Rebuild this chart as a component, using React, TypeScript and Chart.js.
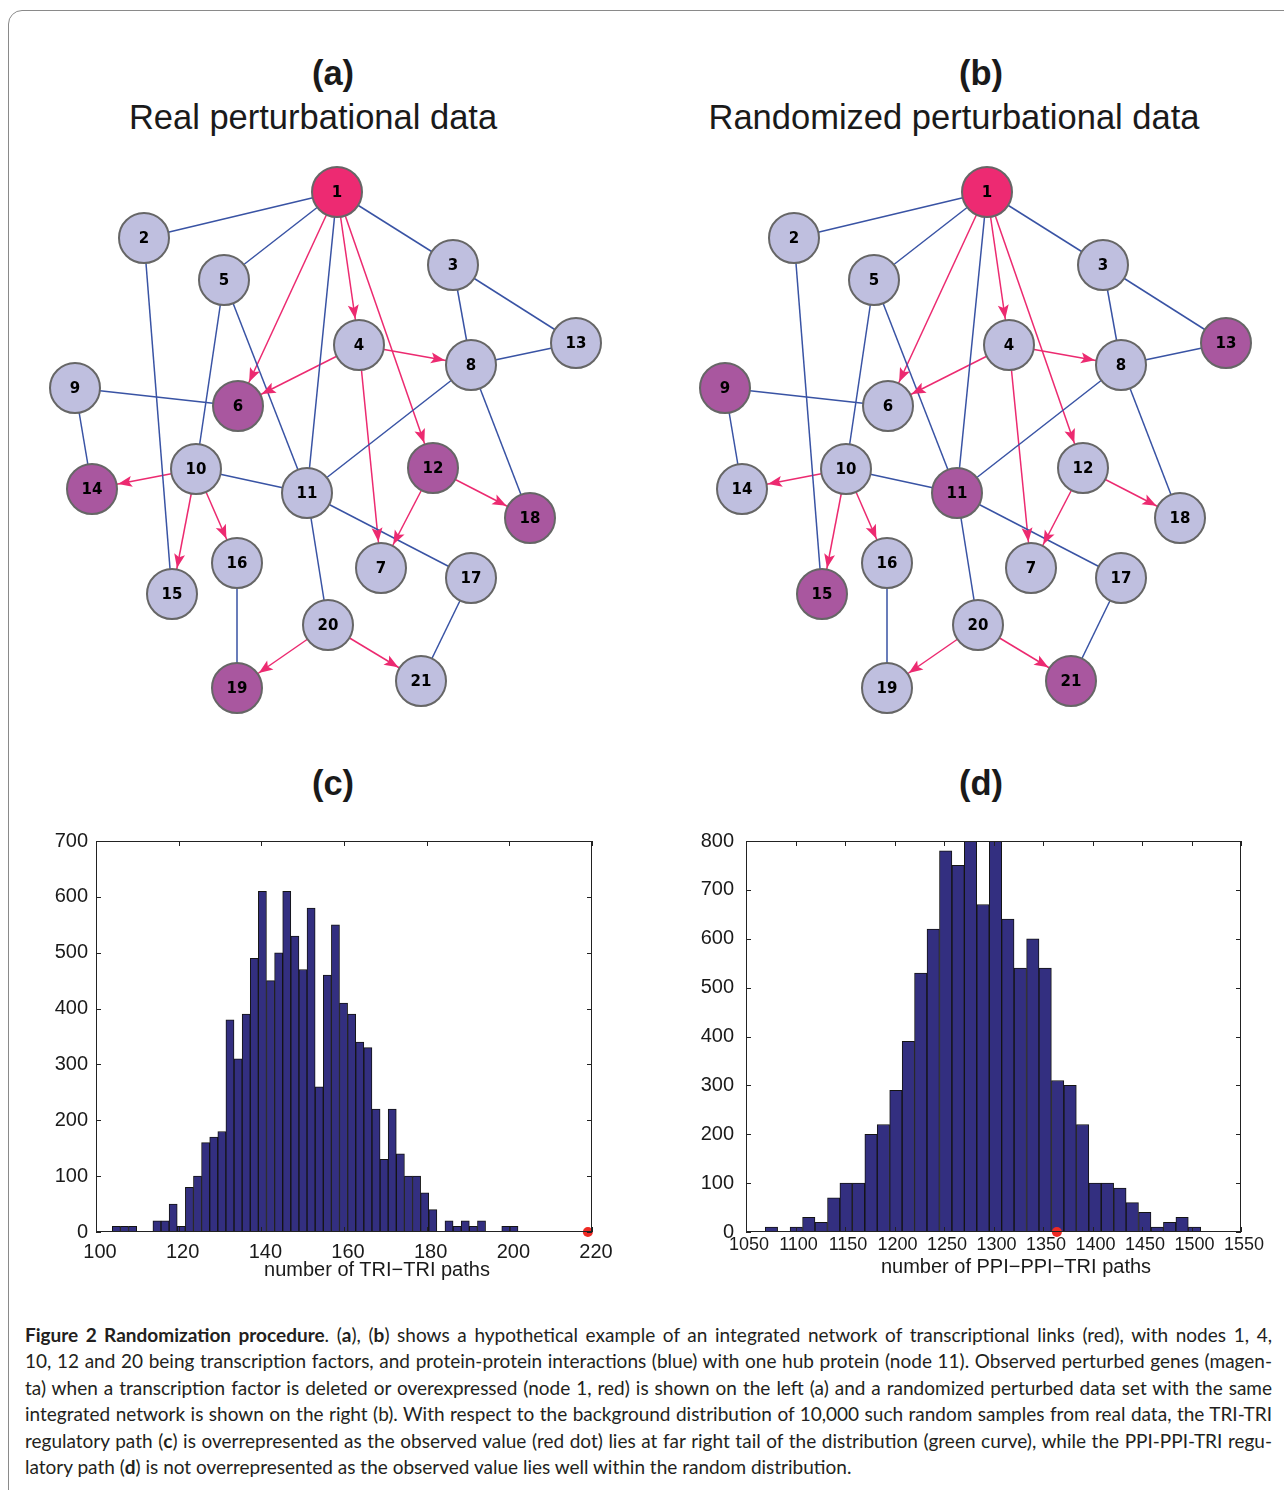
import React, { useEffect, useRef } from "react";
import { Chart, registerables } from "chart.js";

Chart.register(...registerables);

// ---------------- Network data ----------------
const NODE_IDS = [1, 2, 3, 4, 5, 6, 7, 8, 9, 10, 11, 12, 13, 14, 15, 16, 17, 18, 19, 20, 21];
const NODE_X = [337, 144, 453, 359, 224, 238, 381, 471, 75, 196, 307, 433, 576, 92, 172, 237, 471, 530, 237, 328, 421];
const NODE_Y = [192, 238, 265, 345, 280, 406, 568, 365, 388, 469, 493, 468, 343, 489, 594, 563, 578, 518, 688, 625, 681];

// protein-protein interactions (blue, undirected)
const PPI_EDGES: [number, number][] = [
  [1, 2], [1, 5], [1, 3], [1, 11], [3, 8], [3, 13], [8, 13], [8, 11], [8, 18], [2, 15],
  [5, 10], [5, 11], [9, 6], [9, 14], [10, 11], [11, 17], [11, 20], [16, 19], [17, 21],
];
// transcriptional links (red, directed)
const TRI_EDGES: [number, number][] = [
  [1, 6], [1, 4], [1, 12], [4, 6], [4, 8], [4, 7], [12, 7], [12, 18],
  [10, 14], [10, 15], [10, 16], [20, 19], [20, 21],
];
const DELETED_TF = 1;
const PERTURBED_REAL = [6, 12, 14, 18, 19];
const PERTURBED_RANDOM = [9, 11, 13, 15, 21];

// ---------------- Histogram data ----------------
const TRI_BIN_CENTERS = [
  104.93, 106.89, 108.86, 110.82, 112.78, 114.75, 116.71, 118.67, 120.63, 122.6,
  124.56, 126.52, 128.49, 130.45, 132.41, 134.38, 136.34, 138.3, 140.26, 142.23,
  144.19, 146.15, 148.12, 150.08, 152.04, 154.01, 155.97, 157.93, 159.89, 161.86,
  163.82, 165.78, 167.75, 169.71, 171.67, 173.64, 175.6, 177.56, 179.52, 181.49,
  183.45, 185.41, 187.38, 189.34, 191.3, 193.27, 195.23, 197.19, 199.15, 201.12,
];
const TRI_COUNTS = [
  10, 10, 10, 0, 0, 20, 20, 50, 10, 80,
  100, 160, 170, 180, 380, 310, 390, 490, 610, 450,
  500, 610, 530, 470, 580, 260, 460, 550, 410, 390,
  340, 330, 220, 130, 220, 140, 100, 100, 70, 40,
  0, 20, 10, 20, 10, 20, 0, 0, 10, 10,
];
const TRI_OBSERVED = 219;
const TRI_X_TICKS = { min: 100, max: 220, step: 20 };
const TRI_Y_TICKS = { min: 0, max: 700, step: 100 };

const PPI_BIN_CENTERS = [
  1075.7, 1088.3, 1100.8, 1113.4, 1126.0, 1138.6, 1151.1, 1163.7, 1176.3, 1188.8,
  1201.4, 1214.0, 1226.5, 1239.1, 1251.7, 1264.3, 1276.8, 1289.4, 1302.0, 1314.5,
  1327.1, 1339.7, 1352.2, 1364.8, 1377.4, 1390.0, 1402.5, 1415.1, 1427.7, 1440.2,
  1452.8, 1465.4, 1477.9, 1490.5, 1503.1,
];
const PPI_COUNTS = [
  10, 0, 10, 30, 20, 70, 100, 100, 200, 220,
  290, 390, 530, 620, 780, 750, 820, 670, 820, 640,
  540, 600, 540, 310, 300, 220, 100, 100, 90, 60,
  40, 10, 20, 30, 10,
];
const PPI_OBSERVED = 1364;
const PPI_X_TICKS = { min: 1050, max: 1550, step: 50 };
const PPI_Y_TICKS = { min: 0, max: 800, step: 100 };

// ---------------- Styles ----------------
const LAVENDER = "#bfbfdf";
const MAGENTA = "#a9579f";
const RED_NODE = "#ed2a72";
const BLUE_EDGE = "#3953a4";
const RED_EDGE = "#ec2a70";
const NODE_R = 25;
const BAR_FILL = "#332f80";
const AX_FONT = '"Liberation Sans", Arial, Helvetica, sans-serif';

// ---------------- Network chart ----------------
const NET_X0 = 20;
const NET_Y0 = 150;
const NET_W = 620;
const NET_H = 580;

const arrowPlugin = {
  id: "arrowHeads",
  afterDatasetsDraw(chart: any) {
    const { ctx, scales } = chart;
    const xs = scales.x;
    const ys = scales.y;
    ctx.save();
    ctx.fillStyle = RED_EDGE;
    TRI_EDGES.forEach(([a, b]) => {
      const x1 = xs.getPixelForValue(NODE_X[a - 1]);
      const y1 = ys.getPixelForValue(NODE_Y[a - 1]);
      const x2 = xs.getPixelForValue(NODE_X[b - 1]);
      const y2 = ys.getPixelForValue(NODE_Y[b - 1]);
      const d = Math.hypot(x2 - x1, y2 - y1);
      const ux = (x2 - x1) / d;
      const uy = (y2 - y1) / d;
      const tipD = NODE_R + 1.5;
      const tx = x2 - ux * tipD;
      const ty = y2 - uy * tipD;
      const L = 14;
      const W = 5.5;
      const bx = tx - ux * L;
      const by = ty - uy * L;
      const nx = tx - ux * (L - 3);
      const ny = ty - uy * (L - 3);
      ctx.beginPath();
      ctx.moveTo(tx, ty);
      ctx.lineTo(bx - uy * W, by + ux * W);
      ctx.lineTo(nx, ny);
      ctx.lineTo(bx + uy * W, by - ux * W);
      ctx.closePath();
      ctx.fill();
    });
    ctx.restore();
  },
};

const nodeLabelPlugin = {
  id: "nodeLabels",
  afterDatasetsDraw(chart: any) {
    const { ctx, scales } = chart;
    ctx.save();
    ctx.fillStyle = "#000";
    ctx.font = 'bold 15px "DejaVu Sans", Verdana, sans-serif';
    ctx.textAlign = "center";
    ctx.textBaseline = "middle";
    NODE_IDS.forEach((id, i) => {
      ctx.fillText(String(id), scales.x.getPixelForValue(NODE_X[i]), scales.y.getPixelForValue(NODE_Y[i]) + 1);
    });
    ctx.restore();
  },
};

function NetworkChart({ perturbed, left }: { perturbed: number[]; left: number }) {
  const ref = useRef<HTMLCanvasElement>(null);
  useEffect(() => {
    if (!ref.current) return;
    const pts = NODE_IDS.map((_, i) => ({ x: NODE_X[i], y: NODE_Y[i] }));
    const nodeColors = NODE_IDS.map((id) =>
      id === DELETED_TF ? RED_NODE : perturbed.includes(id) ? MAGENTA : LAVENDER
    );
    const edgeSet = (edges: [number, number][], color: string) =>
      edges.map(([a, b]) => ({
        data: [pts[a - 1], pts[b - 1]],
        showLine: true,
        borderColor: color,
        borderWidth: 1.5,
        pointRadius: 0,
        pointHoverRadius: 0,
        fill: false,
        order: 2,
      }));
    const chart = new Chart(ref.current, {
      type: "scatter",
      data: {
        datasets: [
          {
            data: pts,
            pointRadius: NODE_R,
            pointHoverRadius: NODE_R,
            backgroundColor: nodeColors,
            borderColor: "#666666",
            borderWidth: 2,
            pointHoverBorderWidth: 2,
            order: 0,
            clip: false,
          } as any,
          ...(edgeSet(PPI_EDGES, BLUE_EDGE) as any[]),
          ...(edgeSet(TRI_EDGES, RED_EDGE) as any[]),
        ],
      },
      options: {
        animation: false,
        responsive: false,
        maintainAspectRatio: false,
        events: [],
        layout: { padding: 0, autoPadding: false },
        scales: {
          x: { type: "linear", display: false, min: NET_X0, max: NET_X0 + NET_W },
          y: { type: "linear", display: false, min: NET_Y0, max: NET_Y0 + NET_H, reverse: true },
        },
        plugins: { legend: { display: false }, tooltip: { enabled: false }, title: { display: false } },
      },
      plugins: [arrowPlugin, nodeLabelPlugin],
    });
    return () => chart.destroy();
  }, []);
  return (
    <canvas
      ref={ref}
      width={NET_W}
      height={NET_H}
      style={{ position: "absolute", left, top: NET_Y0, width: NET_W, height: NET_H }}
    />
  );
}

// ---------------- Histogram chart ----------------
const boxPlugin = {
  id: "matlabBox",
  afterDatasetsDraw(chart: any) {
    const { ctx, chartArea, scales } = chart;
    const { left, right, top, bottom } = chartArea;
    ctx.save();
    ctx.strokeStyle = "#222";
    ctx.lineWidth = 1;
    ctx.strokeRect(left + 0.5, top + 0.5, right - left - 1, bottom - top - 1);
    const tl = 5;
    ctx.beginPath();
    scales.x.ticks.forEach((t: any) => {
      const px = Math.round(scales.x.getPixelForValue(t.value)) + 0.5;
      ctx.moveTo(px, bottom);
      ctx.lineTo(px, bottom - tl);
      ctx.moveTo(px, top);
      ctx.lineTo(px, top + tl);
    });
    scales.y.ticks.forEach((t: any) => {
      const py = Math.round(scales.y.getPixelForValue(t.value)) + 0.5;
      ctx.moveTo(left, py);
      ctx.lineTo(left + tl, py);
      ctx.moveTo(right, py);
      ctx.lineTo(right - tl, py);
    });
    ctx.stroke();
    ctx.restore();
  },
};

type HistProps = {
  centers: number[];
  counts: number[];
  observed: number;
  xt: { min: number; max: number; step: number };
  yt: { min: number; max: number; step: number };
  left: number;
  top: number;
  width: number;
  height: number;
  padRight: number;
  yAxisW: number;
  xAxisH: number;
  xTickPad: number;
  xTickOffset: number;
  xTickSize: number;
  yTickPad: number;
};

function Histogram(p: HistProps) {
  const ref = useRef<HTMLCanvasElement>(null);
  useEffect(() => {
    if (!ref.current) return;
    const chart = new Chart(ref.current, {
      type: "bar",
      data: {
        datasets: [
          {
            type: "scatter",
            data: [{ x: p.observed, y: 0 }],
            pointRadius: 5,
            backgroundColor: "#ee2a24",
            borderWidth: 0,
            clip: false,
            order: 0,
          } as any,
          {
            type: "bar",
            data: p.centers.map((x, i) => ({ x, y: p.counts[i] })),
            backgroundColor: BAR_FILL,
            borderColor: "#141414",
            borderWidth: (c: any) => (c.raw && c.raw.y > 0 ? 1 : 0),
            borderSkipped: "start",
            barPercentage: 1,
            categoryPercentage: 1,
            clip: 0,
            order: 1,
          } as any,
        ],
      },
      options: {
        animation: false,
        responsive: false,
        maintainAspectRatio: false,
        events: [],
        layout: { padding: { left: 0, top: 0, right: p.padRight, bottom: 0 }, autoPadding: false },
        scales: {
          x: {
            type: "linear",
            min: p.xt.min,
            max: p.xt.max,
            offset: false,
            grid: { display: false, drawTicks: false, offset: false },
            border: { display: false },
            ticks: {
              stepSize: p.xt.step,
              autoSkip: false,
              maxRotation: 0,
              padding: p.xTickPad,
              labelOffset: p.xTickOffset,
              color: "#1a1a1a",
              font: { family: AX_FONT, size: p.xTickSize },
              callback: (v: any) => String(v),
            },
            afterFit: (s: any) => {
              s.height = p.xAxisH;
            },
          },
          y: {
            type: "linear",
            min: p.yt.min,
            max: p.yt.max,
            grid: { display: false, drawTicks: false },
            border: { display: false },
            ticks: {
              stepSize: p.yt.step,
              autoSkip: false,
              padding: p.yTickPad,
              color: "#1a1a1a",
              font: { family: AX_FONT, size: 20 },
              callback: (v: any) => String(v),
            },
            afterFit: (s: any) => {
              s.width = p.yAxisW;
            },
          },
        },
        plugins: { legend: { display: false }, tooltip: { enabled: false }, title: { display: false } },
      },
      plugins: [boxPlugin],
    });
    return () => chart.destroy();
  }, []);
  return (
    <canvas
      ref={ref}
      width={p.width}
      height={p.height}
      style={{ position: "absolute", left: p.left, top: p.top, width: p.width, height: p.height }}
    />
  );
}

// ---------------- Page ----------------
const TITLE_FONT = '"Liberation Sans", Arial, Helvetica, sans-serif';

function Label({ text, cx, cy, size, bold }: { text: string; cx: number; cy: number; size: number; bold?: boolean }) {
  return (
    <div
      style={{
        position: "absolute",
        left: cx - 320,
        width: 640,
        top: cy - 20,
        height: 40,
        lineHeight: "40px",
        textAlign: "center",
        fontFamily: TITLE_FONT,
        fontSize: size,
        fontWeight: bold ? 700 : 400,
        color: "#1a1a1a",
        whiteSpace: "nowrap",
      }}
    >
      {text}
    </div>
  );
}

const CAPTION_LINES: React.ReactNode[] = [
  <>
    <b>Figure 2 Randomization procedure</b>. (<b>a</b>), (<b>b</b>) shows a hypothetical example of an integrated network of transcriptional links (red), with nodes 1, 4,
  </>,
  <>10, 12 and 20 being transcription factors, and protein-protein interactions (blue) with one hub protein (node 11). Observed perturbed genes (magen-</>,
  <>ta) when a transcription factor is deleted or overexpressed (node 1, red) is shown on the left (a) and a randomized perturbed data set with the same</>,
  <>integrated network is shown on the right (b). With respect to the background distribution of 10,000 such random samples from real data, the TRI-TRI</>,
  <>
    regulatory path (<b>c</b>) is overrepresented as the observed value (red dot) lies at far right tail of the distribution (green curve), while the PPI-PPI-TRI regu-
  </>,
  <>
    latory path (<b>d</b>) is not overrepresented as the observed value lies well within the random distribution.
  </>,
];

export default function App() {
  return (
    <div
      style={{
        position: "absolute",
        left: 0,
        top: 0,
        width: 1284,
        height: 1490,
        overflow: "hidden",
        background: "#fff",
      }}
    >
      <div
        style={{
          position: "absolute",
          left: 8,
          top: 10,
          width: 1320,
          height: 1540,
          border: "1px solid #8a8a8a",
          borderRadius: 14,
          boxSizing: "border-box",
        }}
      />
      <Label text="(a)" cx={333} cy={73} size={34.5} bold />
      <Label text="Real perturbational data" cx={313} cy={117} size={34.5} />
      <Label text="(b)" cx={981} cy={73} size={34.5} bold />
      <Label text="Randomized perturbational data" cx={954} cy={117} size={34.5} />
      <NetworkChart perturbed={PERTURBED_REAL} left={NET_X0} />
      <NetworkChart perturbed={PERTURBED_RANDOM} left={NET_X0 + 650} />
      <Label text="(c)" cx={333} cy={783} size={34.5} bold />
      <Label text="(d)" cx={981} cy={783} size={34.5} bold />
      <Histogram
        centers={TRI_BIN_CENTERS}
        counts={TRI_COUNTS}
        observed={TRI_OBSERVED}
        xt={TRI_X_TICKS}
        yt={TRI_Y_TICKS}
        left={30}
        top={821}
        width={600}
        height={449}
        padRight={38}
        yAxisW={66}
        xAxisH={38}
        xTickPad={8}
        xTickOffset={4}
        xTickSize={20}
        yTickPad={8}
      />
      <Label text="number of TRI−TRI paths" cx={377} cy={1269} size={20} />
      <Histogram
        centers={PPI_BIN_CENTERS}
        counts={PPI_COUNTS}
        observed={PPI_OBSERVED}
        xt={PPI_X_TICKS}
        yt={PPI_Y_TICKS}
        left={680}
        top={817}
        width={600}
        height={453}
        padRight={39}
        yAxisW={66}
        xAxisH={38}
        xTickPad={2}
        xTickOffset={3}
        xTickSize={18}
        yTickPad={12}
      />
      <Label text="number of PPI−PPI−TRI paths" cx={1016} cy={1266} size={20} />
      <div
        style={{
          position: "absolute",
          left: 25,
          top: 1322,
          width: 1247,
          fontFamily: 'Lato, "Open Sans", sans-serif',
          fontSize: 19.0,
          lineHeight: "26.4px",
          color: "#231f20",
        }}
      >
        {CAPTION_LINES.map((line, i) => (
          <div
            key={i}
            style={{
              textAlign: i < CAPTION_LINES.length - 1 ? "justify" : "left",
              textAlignLast: i < CAPTION_LINES.length - 1 ? "justify" : "left",
              height: 26.4,
            }}
          >
            {line}
          </div>
        ))}
      </div>
    </div>
  );
}
